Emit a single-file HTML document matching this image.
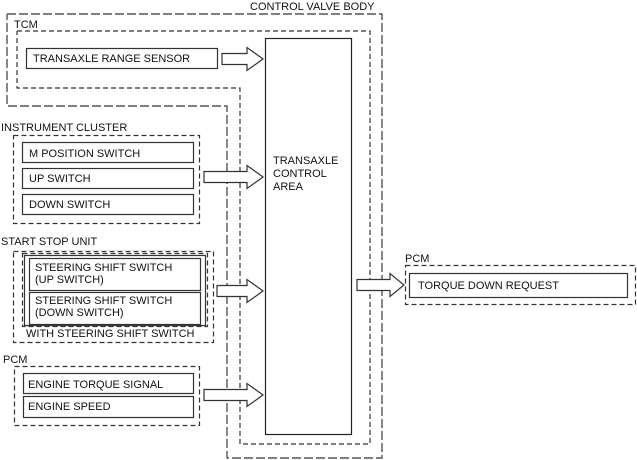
<!DOCTYPE html>
<html><head><meta charset="utf-8"><style>
html,body{margin:0;padding:0;background:#fff}
svg{display:block}
text{font-family:"Liberation Sans",Arial,sans-serif;font-size:11px;fill:#111}
</style></head><body>
<svg width="637" height="460" viewBox="0 0 637 460" xmlns="http://www.w3.org/2000/svg">
<g fill="none" stroke="#333" stroke-width="1.2">
<!-- control valve body -->
<polyline points="7,14 382,14 382,458 227,458 227,106 7,106 7,14" stroke-dasharray="9,3" stroke="#555" stroke-width="1.4"/>
<!-- TCM -->
<polyline points="17,31 370,31 370,444 240,444 240,88 17,88 17,31" stroke-dasharray="5,3"/>
<!-- control area -->
<rect x="265.5" y="38.5" width="86" height="396" stroke="#222"/>
<rect x="26.5" y="48.5" width="191" height="20"/>
<!-- instrument cluster -->
<rect x="13.5" y="135.5" width="186" height="88" stroke-dasharray="5,3"/>
<rect x="22.5" y="142.5" width="171" height="20"/>
<rect x="22.5" y="168.5" width="171" height="20"/>
<rect x="22.5" y="194.5" width="171" height="20"/>
<!-- start stop -->
<rect x="13.5" y="251.5" width="200" height="91" stroke-dasharray="5,3"/>
<rect x="22.5" y="253.5" width="185" height="73" stroke-dasharray="5,3"/>
<rect x="24.5" y="255.5" width="181" height="70"/>
<rect x="29.5" y="258.5" width="171" height="32"/>
<rect x="29.5" y="292.5" width="171" height="32"/>
<!-- PCM left -->
<rect x="14.5" y="366.5" width="185" height="59" stroke-dasharray="5,3"/>
<rect x="23.5" y="373.5" width="170" height="20"/>
<rect x="23.5" y="396.5" width="170" height="21"/>
<!-- PCM right -->
<rect x="405.5" y="265.5" width="230" height="39" stroke-dasharray="5,3"/>
<rect x="409.5" y="273.5" width="218" height="24"/>
</g>
<g fill="#fff" stroke="#333" stroke-width="1.2">
<polygon points="222,53.5 247,53.5 247,47.5 263,59 247,70.5 247,64.5 222,64.5"/>
<polygon points="204,171.5 247,171.5 247,165.5 263,177 247,188.5 247,182.5 204,182.5"/>
<polygon points="217,285.5 247,285.5 247,279.5 263,291 247,302.5 247,296.5 217,296.5"/>
<polygon points="204,389.5 247,389.5 247,383.5 263,395 247,406.5 247,400.5 204,400.5"/>
<polygon points="357,279.5 390,279.5 390,273.5 404,285 390,296.5 390,290.5 357,290.5"/>
</g>
<text x="250" y="10">CONTROL VALVE BODY</text>
<text x="14" y="28">TCM</text>
<text x="33" y="62">TRANSAXLE RANGE SENSOR</text>
<text x="1" y="131">INSTRUMENT CLUSTER</text>
<text x="29" y="157">M POSITION SWITCH</text>
<text x="29" y="182">UP SWITCH</text>
<text x="29" y="208">DOWN SWITCH</text>
<text x="1" y="245">START STOP UNIT</text>
<text x="35" y="271">STEERING SHIFT SWITCH</text>
<text x="35" y="283">(UP SWITCH)</text>
<text x="35" y="304">STEERING SHIFT SWITCH</text>
<text x="35" y="316">(DOWN SWITCH)</text>
<text x="26" y="337">WITH STEERING SHIFT SWITCH</text>
<text x="3" y="363">PCM</text>
<text x="28" y="388">ENGINE TORQUE SIGNAL</text>
<text x="28" y="410">ENGINE SPEED</text>
<text x="273" y="164">TRANSAXLE</text>
<text x="273" y="177">CONTROL</text>
<text x="273" y="190">AREA</text>
<text x="405" y="262">PCM</text>
<text x="418" y="289">TORQUE DOWN REQUEST</text>
</svg>
</body></html>
